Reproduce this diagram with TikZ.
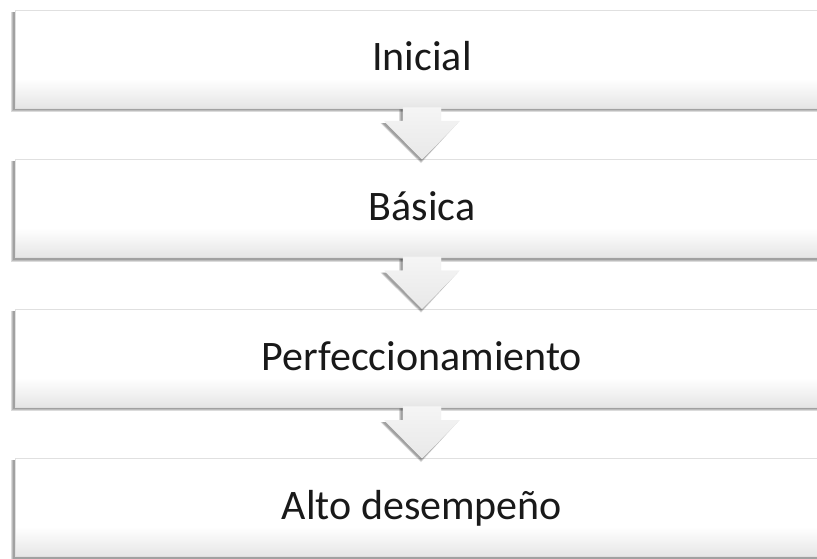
\documentclass[tikz,border=0pt]{standalone}
\usepackage{fontspec}
\setmainfont{Carlito}
\usetikzlibrary{calc}
\pgfdeclarelayer{shadowlayer}
\pgfsetlayers{shadowlayer,main}
\pgfdeclareverticalshading{boxshade}{100bp}{color(0bp)=(black!10); color(25bp)=(black!10); color(40bp)=(white); color(100bp)=(white)}
\pgfdeclareverticalshading{arrowshade}{100bp}{color(0bp)=(black!9); color(25bp)=(black!9); color(75bp)=(black!4); color(100bp)=(black!4)}
\begin{document}
\begin{tikzpicture}[x=1pt,y=-1pt]
\tikzset{
  stagebox/.style={minimum width=814pt, minimum height=98pt, inner sep=0pt,
    draw=black!12, line width=0.6pt, shading=boxshade,
    font=\fontsize{42}{50}\selectfont, text=black!90,
    text height=30pt, text depth=6pt},
  shadowfill/.style={fill=black, opacity=0.14},
  arrowfill/.style={shading=arrowshade, draw=black!5, line width=0.4pt}
}
\useasboundingbox (0,0) rectangle (817,559);
\clip (0,0) rectangle (817,559);

\node[stagebox] (b1) at (422,59)    {Inicial};
\node[stagebox] (b2) at (422,208.5) {Básica};
\node[stagebox] (b3) at (422,358)   {Perfeccionamiento};
\node[stagebox] (b4) at (422,507.5) {Alto desempeño};

% soft shadows behind the boxes
\begin{pgfonlayer}{shadowlayer}
\foreach \b in {b1,b2,b3,b4}{
  \foreach \r in {0,1,2}{
    \fill[shadowfill] ($(\b.north west)+(-1.5-\r,2)$) rectangle ($(\b.south east)+(-1.5+\r,2+\r)$);
  }
}
\end{pgfonlayer}

% down arrows between stages
\foreach \a/\c in {b1/b2,b2/b3,b3/b4}{
  \foreach \r in {0,1,2}{
    \fill[shadowfill]
      ($(\a.south)+(-19-2-\r,1)$) -- ($(\a.south)+(19-2,1)$)
      -- ($(\c.north)+(19-2,-38+2)$) -- ($(\c.north)+(37.5-2,-38+2)$)
      -- ($(\c.north)+(-1,2+\r)$)
      -- ($(\c.north)+(-37.5-2-\r,-38+2)$) -- ($(\c.north)+(-19-2-\r,-38+2)$) -- cycle;
  }
  \path[arrowfill]
    ($(\a.south)+(-19,-1)$) -- ($(\a.south)+(19,-1)$)
    -- ($(\c.north)+(19,-38)$) -- ($(\c.north)+(37.5,-38)$)
    -- (\c.north)
    -- ($(\c.north)+(-37.5,-38)$) -- ($(\c.north)+(-19,-38)$) -- cycle;
}
\end{tikzpicture}
\end{document}
